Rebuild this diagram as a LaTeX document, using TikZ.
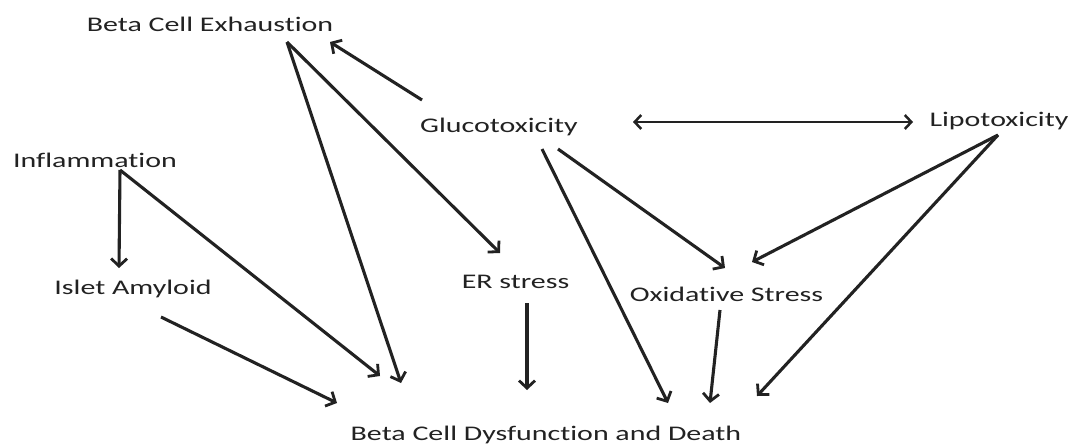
\documentclass[tikz,border=0pt]{standalone}
\usepackage{fontspec}
\setmainfont[FakeStretch=1.44,Ligatures=NoCommon]{Carlito}
\usetikzlibrary{arrows.meta}
\definecolor{ink}{HTML}{222222}
\tikzset{
  lbl/.style={anchor=base, inner sep=0pt, text=ink, font=\fontsize{20.8pt}{24pt}\selectfont},
  arr/.style={draw=ink, line width=3.1pt, -{Straight Barb[length=7.5pt,width=16pt,line width=2.8pt]}},
  darr/.style={draw=ink, line width=2.6pt, {Straight Barb[length=6.5pt,width=14pt,line width=2.5pt]}-{Straight Barb[length=6.5pt,width=14pt,line width=2.5pt]}}
}
\begin{document}
\begin{tikzpicture}[x=1pt,y=-1pt]
\useasboundingbox[fill=white] (0,0) rectangle (1076,444);
% labels
\node[lbl] (bce)  at (210,32)  {Beta Cell Exhaustion};
\node[lbl] (glu)  at (499,132) {Glucotoxicity};
\node[lbl] (lip)  at (999,126) {Lipotoxicity};
\node[lbl] (inf)  at (95,167)  {Inflammation};
\node[lbl] (isl)  at (133,294) {Islet Amyloid};
\node[lbl] (er)   at (515.5,288) {ER stress};
\node[lbl] (ox)   at (726.5,301) {Oxidative Stress};
\node[lbl] (bcd)  at (546,440) {Beta Cell Dysfunction and Death};
% connector end points
\coordinate (gluA) at (422,100);
\coordinate (bceIn) at (330,42);
\coordinate (bceV) at (287,42);
\coordinate (bcdA) at (401,383);
\coordinate (erIn) at (500,253);
\coordinate (gluR) at (633,122);
\coordinate (lipL) at (913,122);
\coordinate (infV) at (120,170);
\coordinate (islIn) at (119,268);
\coordinate (bcdB) at (380,376);
\coordinate (islOut) at (161,317);
\coordinate (bcdC) at (337,403);
\coordinate (erOut) at (527,303);
\coordinate (bcdD) at (527,390);
\coordinate (gluB) at (542,149);
\coordinate (bcdE) at (668,403);
\coordinate (gluC) at (558,149);
\coordinate (oxInA) at (725,268);
\coordinate (lipV) at (998,135);
\coordinate (oxInB) at (752,262);
\coordinate (bcdF) at (757,396);
\coordinate (oxOut) at (720,310);
\coordinate (bcdG) at (710,403);
% connectors
\draw[arr] (gluA) -- (bceIn);
\draw[arr] (bceV) -- (bcdA);
\draw[arr] (bceV) -- (erIn);
\draw[darr] (gluR) -- (lipL);
\draw[arr] (infV) -- (islIn);
\draw[arr] (infV) -- (bcdB);
\draw[arr] (islOut) -- (bcdC);
\draw[arr] (erOut) -- (bcdD);
\draw[arr] (gluB) -- (bcdE);
\draw[arr] (gluC) -- (oxInA);
\draw[arr] (lipV) -- (oxInB);
\draw[arr] (lipV) -- (bcdF);
\draw[arr] (oxOut) -- (bcdG);
\end{tikzpicture}
\end{document}
